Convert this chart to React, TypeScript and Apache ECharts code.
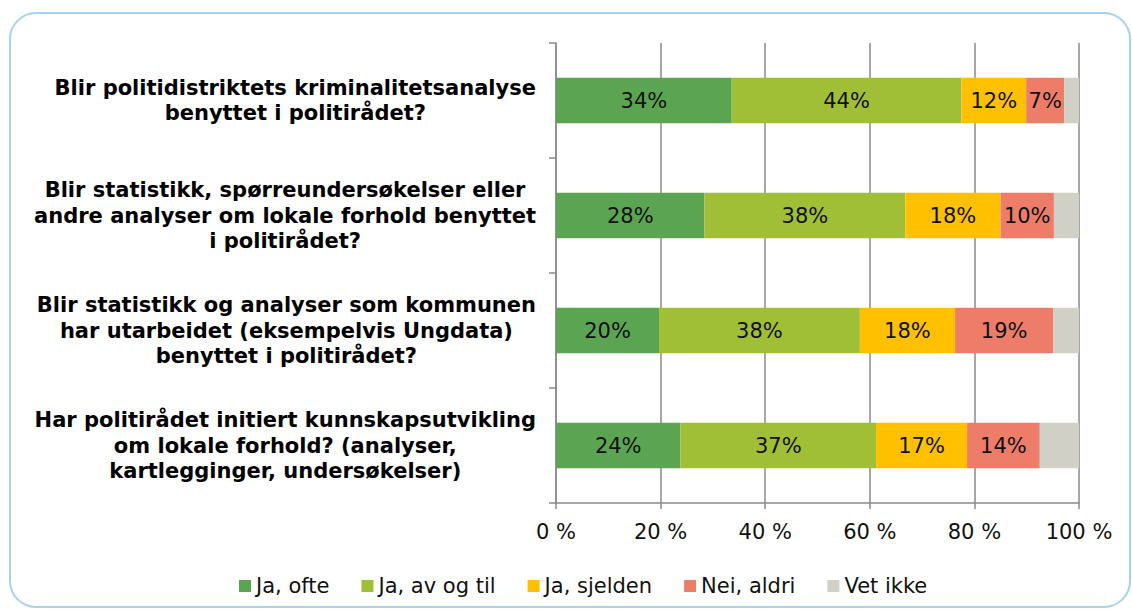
import React, { useEffect, useRef } from "react";
import * as echarts from "echarts";

const categories = [
  "Blir politidistriktets kriminalitetsanalyse\nbenyttet i politirådet?",
  "Blir statistikk, spørreundersøkelser eller\nandre analyser om lokale forhold benyttet\ni politirådet?",
  "Blir statistikk og analyser som kommunen\nhar utarbeidet (eksempelvis Ungdata)\nbenyttet i politirådet?",
  "Har politirådet initiert kunnskapsutvikling\nom lokale forhold? (analyser,\nkartlegginger, undersøkelser)",
];

const seriesNames = ["Ja, ofte", "Ja, av og til", "Ja, sjelden", "Nei, aldri", "Vet ikke"];
const jaOfte = [33.6, 28.4, 19.7, 23.8];
const jaAvOgTil = [43.9, 38.4, 38.4, 37.4];
const jaSjelden = [12.4, 18.2, 18.2, 17.4];
const neiAldri = [7.3, 10.2, 18.8, 13.9];
const vetIkke = [2.8, 4.8, 4.9, 7.5];
const xTicks = [0, 20, 40, 60, 80, 100];

const colors = ["#5ba552", "#a1bf36", "#ffc000", "#ed7d69", "#d0d0c7"];
const FONT = "DejaVu Sans";

export default function App() {
  const ref = useRef<HTMLDivElement>(null);
  useEffect(() => {
    if (!ref.current) return;
    const chart = echarts.init(ref.current, null, { renderer: "svg" });
    const values = [jaOfte, jaAvOgTil, jaSjelden, neiAldri, vetIkke];
    chart.setOption({
      animation: false,
      color: colors,
      graphic: [
        {
          type: "rect",
          shape: { x: 10, y: 13, width: 1120, height: 594, r: 26 },
          style: { fill: "none", stroke: "#a8d2f4", lineWidth: 2 },
          silent: true,
        },
      ],
      grid: { left: 556, right: 53, top: 43, bottom: 107, containLabel: false },
      xAxis: {
        type: "value",
        min: xTicks[0],
        max: xTicks[xTicks.length - 1],
        interval: 20,
        axisLine: { show: true, lineStyle: { color: "#8a8a8a", width: 1.5 } },
        axisTick: { show: true, length: 6, lineStyle: { color: "#8a8a8a", width: 1.5 } },
        splitLine: { show: true, lineStyle: { color: "#8a8a8a", width: 1.5 } },
        axisLabel: {
          margin: 18,
          fontFamily: FONT,
          fontSize: 21,
          color: "#111",
          formatter: (v: number) => `${v} %`,
        },
      },
      yAxis: {
        type: "category",
        data: categories,
        inverse: true,
        axisLine: { show: true, lineStyle: { color: "#8a8a8a", width: 1.5 } },
        axisTick: { show: true, length: 7, lineStyle: { color: "#8a8a8a", width: 1.5 } },
        axisLabel: {
          margin: 20,
          align: "right",
          formatter: (v: string) =>
            v
              .split("\n")
              .map((l) => `{c|${l}}`)
              .join("\n"),
          rich: {
            c: {
              align: "center",
              fontFamily: FONT,
              fontWeight: "bold",
              fontSize: 21,
              lineHeight: 25.5,
              color: "#000",
            },
          },
        },
      },
      legend: {
        data: seriesNames,
        left: 234,
        top: 569,
        icon: "rect",
        itemWidth: 12,
        itemHeight: 12,
        itemGap: 32,
        textStyle: { fontFamily: FONT, fontSize: 21, color: "#111", lineHeight: 24 },
      },
      series: seriesNames.map((name, i) => ({
        name,
        type: "bar",
        stack: "total",
        barWidth: "39.5%",
        data: values[i],
        label: {
          show: i < 4,
          position: "inside",
          fontFamily: FONT,
          fontSize: 21,
          color: "#111",
          formatter: (p: any) => `${Math.round(p.value)}%`,
        },
      })),
    });
    return () => chart.dispose();
  }, []);
  return (
    <div
      ref={ref}
      style={{ position: "fixed", left: 0, top: 0, width: 1132, height: 610, background: "#fff" }}
    />
  );
}
